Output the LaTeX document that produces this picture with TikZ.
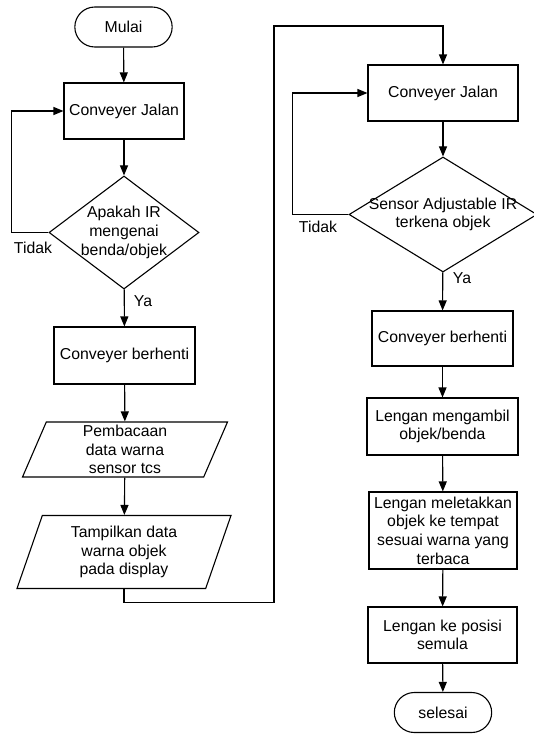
\documentclass[tikz,border=0pt]{standalone}
\usepackage{fontspec}
\setmainfont{Liberation Sans}
\usetikzlibrary{shapes.geometric}
\usetikzlibrary{shapes.misc}
\usetikzlibrary{arrows.meta}

\tikzset{
  teks/.style={font=\fontsize{15.8}{18.6}\selectfont, align=center},
  kotak/.style={teks, draw, line width=1.1pt, rectangle, inner sep=1pt},
  ujung/.style={teks, draw, line width=1.1pt, rounded rectangle, minimum width=104pt, minimum height=40pt},
  belah/.style={teks, draw, line width=1.1pt, diamond, inner sep=-10pt},
  jajar/.style={teks, draw, line width=1.1pt, trapezium, trapezium left angle=64, trapezium right angle=116, trapezium stretches body, inner sep=0pt},
  panah/.style={line width=1.1pt, -{Triangle[length=10pt,width=8pt]}},
}

\begin{document}
\begin{tikzpicture}[x=1pt, y=-1pt]
    \useasboundingbox (0,0) rectangle (534,736);
    % kolom kiri
    \node[ujung] (mulai) at (123.5,27) {Mulai};
    \node[kotak, minimum width=120pt, minimum height=56pt] (jalanA) at (124,111) {Conveyer Jalan};
    \node[belah, shape aspect=1.33, minimum width=150pt, minimum height=113pt] (cekA) at (124,232.5) {Apakah IR\\mengenai\\benda/objek};
    \node[kotak, minimum width=141pt, minimum height=57pt] (berhentiA) at (124.5,355.5) {Conveyer berhenti};
    \node[jajar, minimum width=205pt, minimum height=55pt] (bacaA) at (125,449.5) {Pembacaan\\data warna\\sensor tcs};
    \node[jajar, minimum width=214pt, minimum height=73pt] (tampilA) at (124,552) {Tampilkan data\\warna objek\\pada display};
    \node[teks] (tidakA) at (33,248) {Tidak};
    \node[teks] (yaA) at (143,301) {Ya};

    % kolom kanan
    \node[kotak, minimum width=150pt, minimum height=56pt] (jalanB) at (443,93) {Conveyer Jalan};
    \node[belah, shape aspect=1.63, minimum width=188pt, minimum height=115pt] (cekB) at (443,214.5) {Sensor Adjustable IR\\terkena objek};
    \node[kotak, minimum width=141pt, minimum height=55pt] (berhentiB) at (442.5,338.5) {Conveyer berhenti};
    \node[kotak, minimum width=151pt, minimum height=57pt] (ambil) at (442.5,426.5) {Lengan mengambil\\objek/benda};
    \node[kotak, minimum width=148pt, minimum height=77pt] (letak) at (443,530.5) {Lengan meletakkan\\objek ke tempat\\sesuai warna yang\\terbaca};
    \node[kotak, minimum width=149pt, minimum height=56pt] (posisi) at (442.5,635) {Lengan ke posisi\\semula};
    \node[ujung] (selesai) at (443,712.5) {selesai};
    \node[teks] (tidakB) at (318,227) {Tidak};
    \node[teks] (yaB) at (462,278) {Ya};

    \coordinate (jalur) at (274,26);

    % alur
    \draw[panah] (mulai) -- (jalanA);
    \draw[panah] (jalanA) -- (cekA);
    \draw[panah] (cekA.west) -- ++(-37,0) |- (jalanA.west);
    \draw[panah] (cekA) -- (berhentiA);
    \draw[panah] (berhentiA) -- (bacaA);
    \draw[panah] (bacaA) -- (tampilA);
    \draw[panah] (tampilA.south) -- ++(0,13) -| (jalur) -| (jalanB.north);
    \draw[panah] (jalanB) -- (cekB);
    \draw[panah] (cekB.west) -- ++(-56,0) |- (jalanB.west);
    \draw[panah] (cekB) -- (berhentiB);
    \draw[panah] (berhentiB) -- (ambil);
    \draw[panah] (ambil) -- (letak);
    \draw[panah] (letak) -- (posisi);
    \draw[panah] (posisi) -- (selesai);
\end{tikzpicture}
\end{document}
